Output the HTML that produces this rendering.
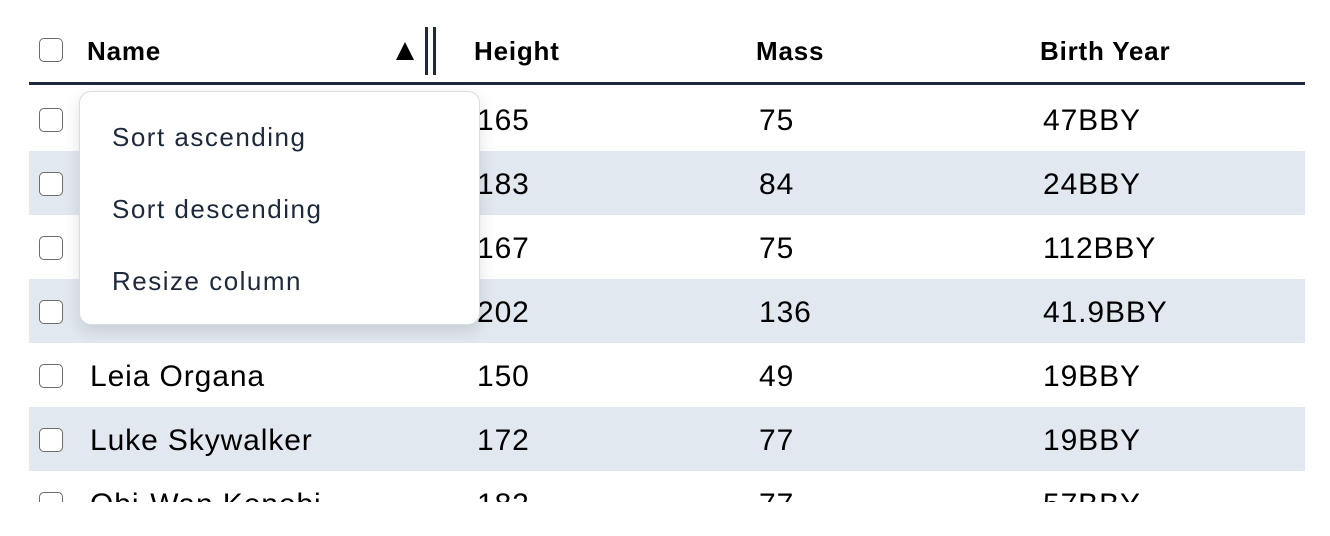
<!DOCTYPE html>
<html><head><style>
body{margin:0;width:1330px;height:536px;background:#fff;font-family:"Liberation Sans",Arial,sans-serif;position:relative;overflow:hidden;color:#000}
.cb{position:absolute;left:39px;width:22px;height:22px;border:1.5px solid #6b6b6b;border-radius:5px;background:#fff}
.row{position:absolute;left:29px;width:1276px;height:64px}
.g{background:#e2e8f0}
.t{position:absolute;font-size:30px;line-height:32px;letter-spacing:0.9px}
.h{position:absolute;font-size:26px;font-weight:bold;top:35px;line-height:32px;letter-spacing:0.8px}
.clip{position:absolute;left:0;top:0;width:1330px;height:502px;overflow:hidden}
.menu{position:absolute;left:79px;top:91px;width:399px;height:232px;background:#fff;border:1px solid #d8dde3;border-radius:12px;box-shadow:0 6px 16px rgba(0,0,0,.12)}
.mi{position:absolute;left:32px;font-size:26px;color:#1e293b;letter-spacing:1.5px}
</style></head><body>
<div class="cb" style="top:38px"></div>
<div class="h" style="left:87px">Name</div>
<div class="h" style="left:474px">Height</div>
<div class="h" style="left:756px">Mass</div>
<div class="h" style="left:1040px">Birth Year</div>
<div style="position:absolute;left:396px;top:42px;width:0;height:0;border-left:9px solid transparent;border-right:9px solid transparent;border-bottom:18px solid #000"></div>
<div style="position:absolute;left:425px;top:27px;width:3px;height:48px;background:#1e293b"></div>
<div style="position:absolute;left:433px;top:27px;width:3px;height:48px;background:#1e293b"></div>
<div style="position:absolute;left:29px;top:82px;width:1276px;height:3px;background:#1e293b"></div>
<div class="clip">
<div class="row" style="top:87px"></div>
<div class="row g" style="top:151px"></div>
<div class="row" style="top:215px"></div>
<div class="row g" style="top:279px"></div>
<div class="row" style="top:343px"></div>
<div class="row g" style="top:407px"></div>
<div class="cb" style="top:108px"></div><div class="cb" style="top:172px"></div><div class="cb" style="top:236px"></div><div class="cb" style="top:300px"></div><div class="cb" style="top:364px"></div><div class="cb" style="top:428px"></div><div class="cb" style="top:492px"></div>
<div class="t" style="left:90px;top:361px">Leia Organa</div>
<div class="t" style="left:90px;top:425px">Luke Skywalker</div>
<div class="t" style="left:90px;top:489px">Obi-Wan Kenobi</div>
<div class="t" style="left:477px;top:105px">165</div><div class="t" style="left:759px;top:105px">75</div><div class="t" style="left:1043px;top:105px">47BBY</div>
<div class="t" style="left:477px;top:169px">183</div><div class="t" style="left:759px;top:169px">84</div><div class="t" style="left:1043px;top:169px">24BBY</div>
<div class="t" style="left:477px;top:233px">167</div><div class="t" style="left:759px;top:233px">75</div><div class="t" style="left:1043px;top:233px">112BBY</div>
<div class="t" style="left:477px;top:297px">202</div><div class="t" style="left:759px;top:297px">136</div><div class="t" style="left:1043px;top:297px">41.9BBY</div>
<div class="t" style="left:477px;top:361px">150</div><div class="t" style="left:759px;top:361px">49</div><div class="t" style="left:1043px;top:361px">19BBY</div>
<div class="t" style="left:477px;top:425px">172</div><div class="t" style="left:759px;top:425px">77</div><div class="t" style="left:1043px;top:425px">19BBY</div>
<div class="t" style="left:477px;top:489px">182</div><div class="t" style="left:759px;top:489px">77</div><div class="t" style="left:1043px;top:489px">57BBY</div>
</div>
<div class="menu">
<div class="mi" style="top:30px">Sort ascending</div>
<div class="mi" style="top:102px">Sort descending</div>
<div class="mi" style="top:174px">Resize column</div>
</div>
</body></html>
